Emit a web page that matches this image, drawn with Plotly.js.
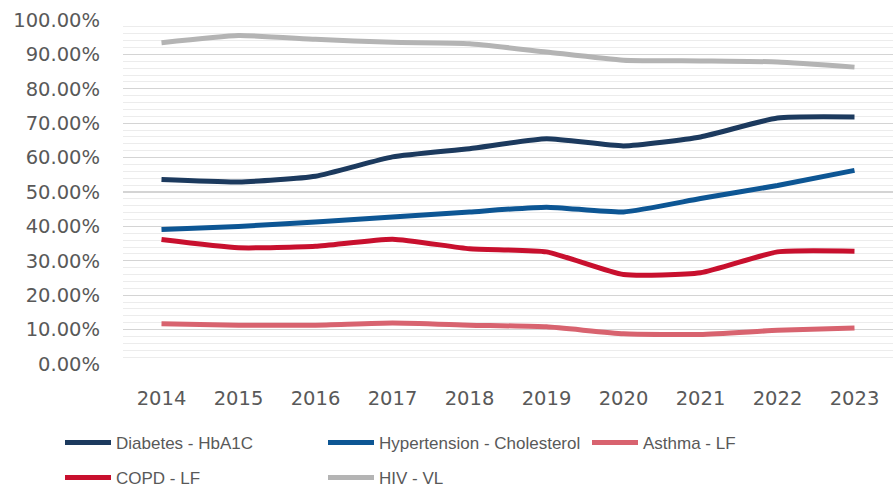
<!DOCTYPE html>
<html>
<head>
<meta charset="utf-8">
<script src="https://cdn.plot.ly/plotly-3.0.1.min.js"></script>
<style>html,body{margin:0;padding:0;background:#fff;}#chart{width:893px;height:489px;}</style>
</head>
<body>
<div id="chart"></div>
<script>
const years = ['2014','2015','2016','2017','2018','2019','2020','2021','2022','2023'];
const diabetes = [0.536, 0.529, 0.546, 0.602, 0.626, 0.655, 0.634, 0.660, 0.715, 0.718];
const hypertension = [0.391, 0.400, 0.413, 0.427, 0.442, 0.456, 0.442, 0.481, 0.519, 0.563];
const asthma = [0.117, 0.113, 0.113, 0.119, 0.113, 0.108, 0.088, 0.086, 0.098, 0.105];
const copd = [0.362, 0.338, 0.342, 0.363, 0.335, 0.326, 0.260, 0.265, 0.326, 0.328];
const hiv = [0.934, 0.955, 0.944, 0.935, 0.931, 0.907, 0.883, 0.881, 0.878, 0.863];

const names = ['Diabetes - HbA1C','Hypertension - Cholesterol','Asthma - LF','COPD - LF','HIV - VL'];
const colors = ['#1c3a5e','#0d5694','#d8636f','#c8102e','#b4b4b4'];
const series = [diabetes, hypertension, asthma, copd, hiv];
const legendIds = ['legend','legend2','legend3','legend4','legend5'];
const legX = [60, 323, 587, 60, 323];
const legY = [425, 425, 425, 460, 460];

const traces = series.map((s,i)=>({
  x: years, y: s, name: names[i], type:'scatter', mode:'lines',
  line:{color:colors[i], width:5, shape:'spline', smoothing:0.5},
  legend: legendIds[i], hoverinfo:'skip'
}));

const legFont = {family:'Liberation Sans, Arial, sans-serif', size:17, color:'#595959'};
const layout = {
  width:893, height:489,
  margin:{l:123, r:0, t:20, b:125, autoexpand:false},
  paper_bgcolor:'#fff', plot_bgcolor:'#fff',
  showlegend:true,
  xaxis:{type:'category', range:[-0.5, 9.5], showgrid:false, zeroline:false, showline:false,
    ticks:'', ticklabelstandoff:20, automargin:false,
    tickfont:{family:'DejaVu Sans, sans-serif', size:19.5, color:'#595959'}},
  yaxis:{range:[0,1], dtick:0.1, tick0:0, tickformat:'.2%', zeroline:false, automargin:false,
    showgrid:true, gridcolor:'#d4d4d4', gridwidth:1.3, ticks:'', ticklabelstandoff:22,
    minor:{dtick:0.02, showgrid:true, gridcolor:'#ececec', gridwidth:1},
    tickfont:{family:'DejaVu Sans, sans-serif', size:19.5, color:'#595959'}}
};
legendIds.forEach((id,i)=>{
  layout[id] = {xref:'container', yref:'container', x:legX[i]/893, xanchor:'left',
    y:1-legY[i]/489, yanchor:'top', itemwidth:46, font:legFont, bgcolor:'rgba(0,0,0,0)'};
});
Plotly.newPlot('chart', traces, layout, {displayModeBar:false, staticPlot:true});
</script>
</body>
</html>
